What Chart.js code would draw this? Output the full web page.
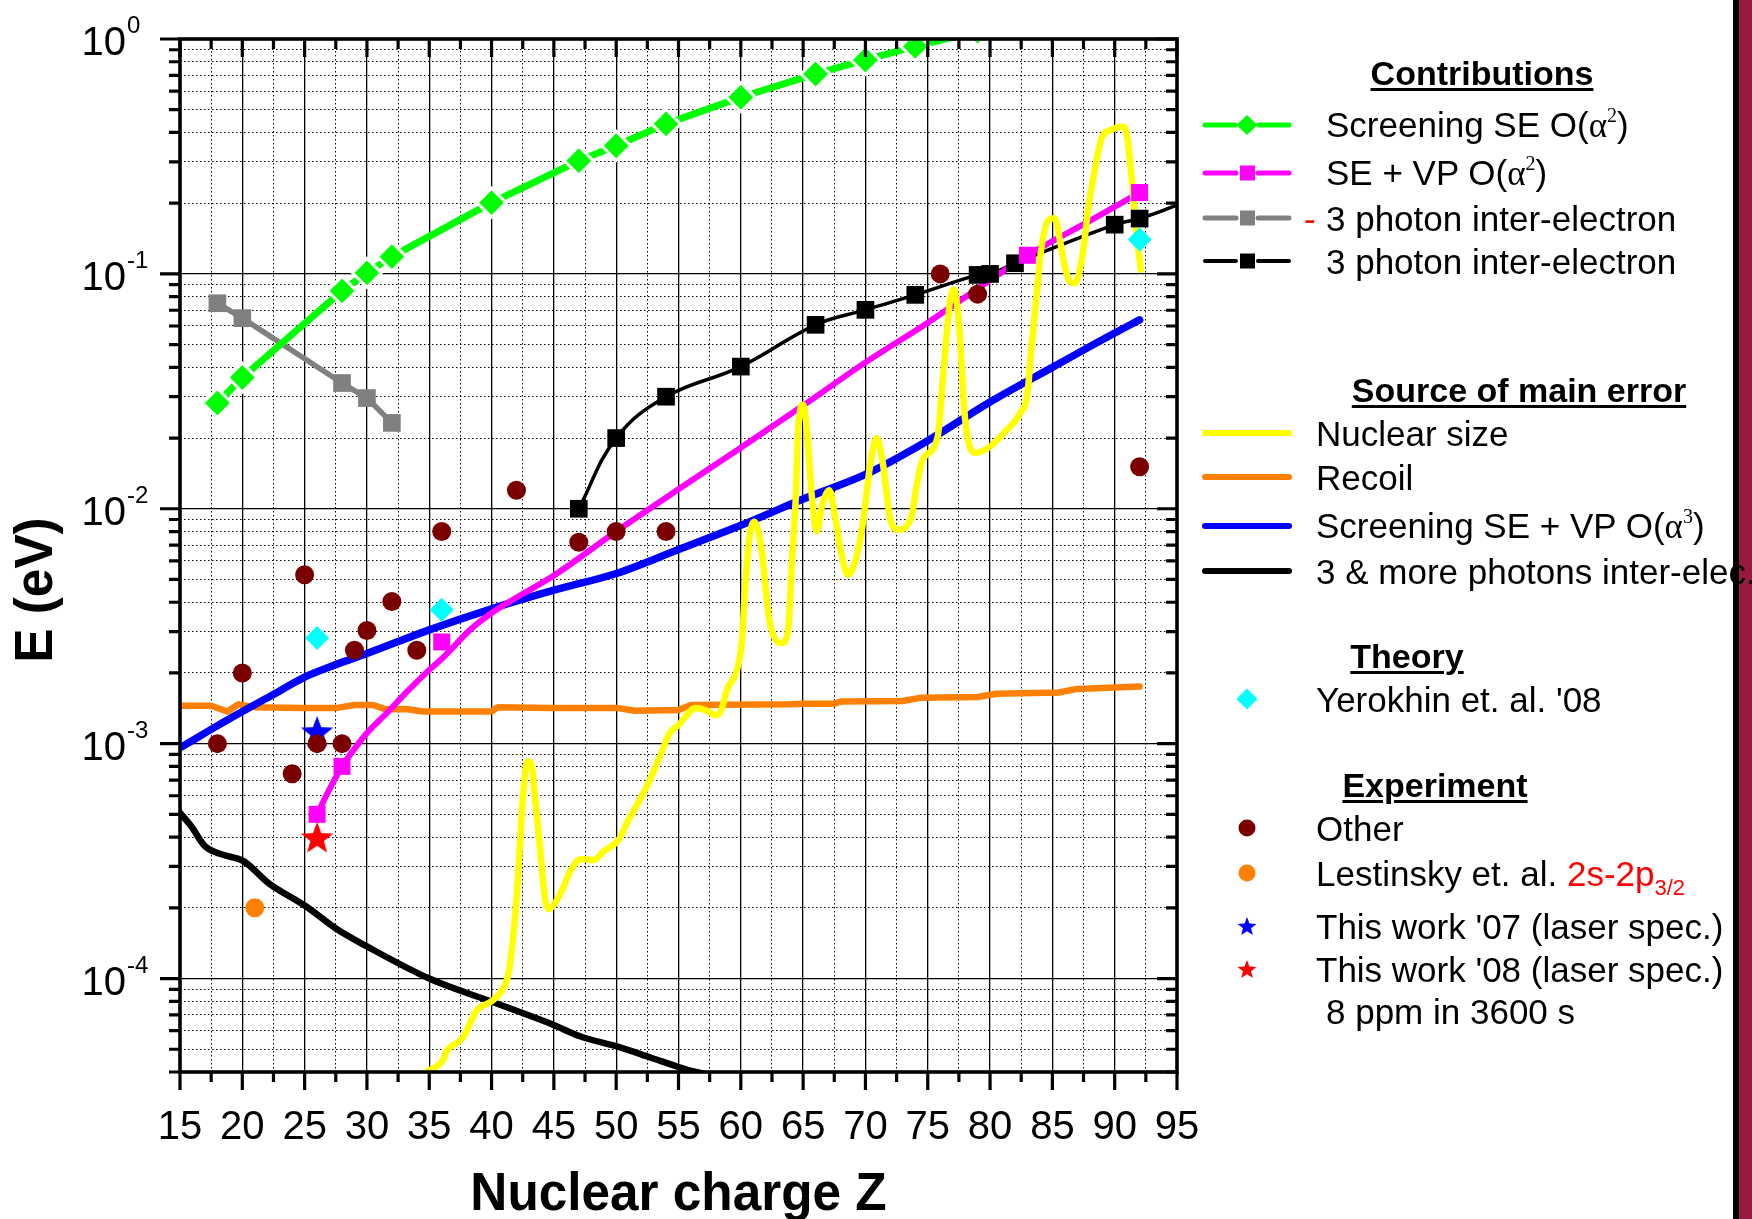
<!DOCTYPE html>
<html>
<head>
<meta charset="utf-8">
<title>Screening and error budget vs Z</title>
<script src="https://cdn.jsdelivr.net/npm/chart.js@4.4.1/dist/chart.umd.min.js"></script>
<style>
  html, body { margin: 0; padding: 0; background: #fff; }
  body { width: 1752px; height: 1219px; position: relative; overflow: hidden; font-family: "Liberation Sans", Arial, sans-serif; }
  #plot { position: absolute; left: 0; top: 0; }
  .lg { position: absolute; font-size: 35px; line-height: 1; color: #000; white-space: nowrap; transform: translateY(-50%); }
  .hd { font-weight: bold; font-size: 34px; text-decoration: underline; text-decoration-thickness: 3px; text-underline-offset: 3px; transform: translate(-50%, -50%); }
  .al { font-family: "Liberation Serif", "Times New Roman", serif; }
  .sp { font-family: "Liberation Serif", "Times New Roman", serif; font-size: 20px; position: relative; top: -15px; }
  .red { color: #ff0000; }
  .sb { font-size: 22px; position: relative; top: 9px; }
  .smp { position: absolute; left: 1198px; width: 100px; height: 30px; }
  #bar { position: absolute; left: 1733px; top: 0; width: 19px; height: 1219px; background: #981a3e; border-left: 6px solid #000; box-sizing: border-box; }
</style>
</head>
<body>
<canvas id="plot" width="1752" height="1219"></canvas>
<div id="bar"></div>

<div class="lg hd" style="left:1482px;top:73px">Contributions</div>
<svg class="smp" style="top:110px"><line x1="7" y1="15" x2="37" y2="15" stroke="#00ff00" stroke-width="5" stroke-linecap="round"/><line x1="61" y1="15" x2="91" y2="15" stroke="#00ff00" stroke-width="5" stroke-linecap="round"/><polygon points="49,5 59.5,15 49,25 38.5,15" fill="#00ff00"/></svg>
<div class="lg" style="left:1326px;top:125px">Screening SE O(<span class="al">α</span><span class="sp">2</span>)</div>
<svg class="smp" style="top:158px"><line x1="7" y1="15" x2="38" y2="15" stroke="#ff00ff" stroke-width="5" stroke-linecap="round"/><line x1="60" y1="15" x2="91" y2="15" stroke="#ff00ff" stroke-width="5" stroke-linecap="round"/><rect x="42" y="7.5" width="15" height="15" fill="#ff00ff"/></svg>
<div class="lg" style="left:1326px;top:173px">SE + VP O(<span class="al">α</span><span class="sp">2</span>)</div>
<svg class="smp" style="top:203px"><line x1="7" y1="15" x2="38" y2="15" stroke="#808080" stroke-width="5" stroke-linecap="round"/><line x1="60" y1="15" x2="91" y2="15" stroke="#808080" stroke-width="5" stroke-linecap="round"/><rect x="42" y="7.5" width="15" height="15" fill="#808080"/></svg>
<div class="lg red" style="left:1304px;top:218px">-</div>
<div class="lg" style="left:1326px;top:218px">3 photon inter-electron</div>
<svg class="smp" style="top:246px"><line x1="7" y1="15" x2="38" y2="15" stroke="#000" stroke-width="4" stroke-linecap="round"/><line x1="60" y1="15" x2="91" y2="15" stroke="#000" stroke-width="4" stroke-linecap="round"/><rect x="42" y="7.5" width="15" height="15" fill="#000"/></svg>
<div class="lg" style="left:1326px;top:261px">3 photon inter-electron</div>

<div class="lg hd" style="left:1519px;top:390px">Source of main error</div>
<svg class="smp" style="top:418px"><line x1="7" y1="15" x2="91" y2="15" stroke="#ffff00" stroke-width="6" stroke-linecap="round"/></svg>
<div class="lg" style="left:1316px;top:433px">Nuclear size</div>
<svg class="smp" style="top:462px"><line x1="7" y1="15" x2="91" y2="15" stroke="#ff8000" stroke-width="6" stroke-linecap="round"/></svg>
<div class="lg" style="left:1316px;top:477px">Recoil</div>
<svg class="smp" style="top:511px"><line x1="7" y1="15" x2="91" y2="15" stroke="#0000ff" stroke-width="6" stroke-linecap="round"/></svg>
<div class="lg" style="left:1316px;top:526px">Screening SE + VP O(<span class="al">α</span><span class="sp">3</span>)</div>
<svg class="smp" style="top:556px"><line x1="7" y1="15" x2="91" y2="15" stroke="#000" stroke-width="6" stroke-linecap="round"/></svg>
<div class="lg" style="left:1316px;top:571px">3 &amp; more photons inter-elec.</div>

<div class="lg hd" style="left:1407px;top:656px">Theory</div>
<svg class="smp" style="top:684px"><polygon points="49,4.5 59.5,15 49,25.5 38.5,15" fill="#00ffff"/></svg>
<div class="lg" style="left:1316px;top:699px">Yerokhin et. al. '08</div>

<div class="lg hd" style="left:1435px;top:785px">Experiment</div>
<svg class="smp" style="top:813px"><circle cx="49" cy="15" r="8.5" fill="#7a0000"/></svg>
<div class="lg" style="left:1316px;top:828px">Other</div>
<svg class="smp" style="top:858px"><circle cx="49" cy="15" r="8.5" fill="#ff8000"/></svg>
<div class="lg" style="left:1316px;top:873px">Lestinsky et. al. <span class="red">2s-2p<span class="sb">3/2</span></span></div>
<svg class="smp" style="top:911px"><polygon id="st07" fill="#0000ff"/></svg>
<div class="lg" style="left:1316px;top:926px">This work '07 (laser spec.)</div>
<svg class="smp" style="top:954px"><polygon id="st08" fill="#ff0000"/></svg>
<div class="lg" style="left:1316px;top:969px">This work '08 (laser spec.)</div>
<div class="lg" style="left:1326px;top:1011px">8 ppm in 3600 s</div>

<script>
// axis ranges and tick labels
const zMin = 15, zMax = 95;
const eMin = 4e-5, eMax = 1;
const zTickValues = [15, 17.5, 20, 22.5, 25, 27.5, 30, 32.5, 35, 37.5, 40, 42.5, 45, 47.5, 50, 52.5, 55,
  57.5, 60, 62.5, 65, 67.5, 70, 72.5, 75, 77.5, 80, 82.5, 85, 87.5, 90, 92.5, 95];
const zLabelValues = [15, 20, 25, 30, 35, 40, 45, 50, 55, 60, 65, 70, 75, 80, 85, 90, 95];
const eDecades = [0, -1, -2, -3, -4];

// Screening SE O(a^2)
const screenSeZ = [18, 20, 28, 30, 32, 40, 47, 50, 54, 60, 66, 70, 74, 79];
const screenSeE = [0.0282, 0.0362, 0.0847, 0.101, 0.1185, 0.201, 0.303, 0.351, 0.435, 0.565, 0.71, 0.814, 0.93, 1.08];

// SE + VP O(a^2): computed points and the curve through them
const seVpMarkZ = [26, 28, 36, 83, 92];
const seVpMarkE = [5.0e-4, 8.0e-4, 2.71e-3, 0.12, 0.222];
const seVpCurveZ = [26, 27, 28, 29, 30, 31.6, 33.1, 35, 36.2, 38.3, 40, 41.7, 45, 50, 55, 60, 65, 70, 75, 80, 83, 88, 92];
const seVpCurveE = [5.0e-4, 6.4e-4, 8.0e-4, 9.5e-4, 1.11e-3, 1.35e-3, 1.64e-3, 2.06e-3, 2.35e-3, 3.06e-3, 3.6e-3, 4.1e-3,
  5.2e-3, 8.0e-3, 0.0121, 0.0182, 0.0275, 0.042, 0.062, 0.094, 0.12, 0.168, 0.222];

// 3 photon inter-electron, negative sign
const photon3NegZ = [18, 20, 28, 30, 32];
const photon3NegE = [0.075, 0.0648, 0.0343, 0.0296, 0.0232];

// 3 photon inter-electron
const photon3MarkZ = [47, 50, 54, 60, 66, 70, 74, 79, 80, 82, 90, 92];
const photon3MarkE = [0.01, 0.02, 0.030, 0.0403, 0.0607, 0.0703, 0.0814, 0.099, 0.1, 0.111, 0.162, 0.172];
const photon3CurveZ = [47, 50, 54, 60, 66, 70, 74, 79, 80, 82, 90, 92, 95];
const photon3CurveE = [0.01, 0.02, 0.030, 0.0403, 0.0607, 0.0703, 0.0814, 0.099, 0.1, 0.111, 0.162, 0.172, 0.196];

// nuclear size uncertainty
const nuclearZ = [34.8, 36.1, 36.4, 37.7, 38.8, 40.0, 40.7, 41.3, 41.6, 42.0, 42.3, 42.5, 42.9, 43.2, 43.5, 43.9, 44.3,
  44.6, 45.1, 45.8, 46.3, 47.2, 48.2, 49.0, 50.2, 51.0, 51.9, 52.7, 53.5, 54.3, 55.0, 56.4, 57.3, 58.0, 58.4,
  58.9, 59.7, 60.1, 60.3, 60.7, 61.1, 61.7, 62.2, 62.7, 63.3, 63.8, 64.1, 64.4, 64.6, 65.0, 65.3, 65.7, 66.1,
  66.5, 67.1, 67.6, 68.1, 68.6, 69.3, 69.8, 70.4, 70.9, 71.4, 72.0, 72.6, 73.7, 74.1, 74.6, 75.8, 76.1, 76.3,
  76.8, 77.1, 77.5, 78.0, 78.8, 80.0, 81.1, 82.4, 83.0, 83.3, 83.7, 84.1, 84.7, 85.2, 85.6, 86.0, 86.4, 86.8,
  87.4, 87.9, 88.5, 89.0, 89.7, 90.6, 91.0, 91.4, 91.7, 92.1];
const nuclearE = [4.0e-5, 4.5e-5, 4.9e-5, 5.6e-5, 7.3e-5, 8.0e-5, 8.7e-5, 1.02e-4, 1.29e-4, 2.17e-4, 3.9e-4, 5.8e-4,
  8.4e-4, 8.2e-4, 5.8e-4, 3.54e-4, 2.17e-4, 1.97e-4, 2.1e-4, 2.47e-4, 2.86e-4, 3.23e-4, 3.2e-4, 3.48e-4, 3.9e-4,
  4.75e-4, 5.78e-4, 7.0e-4, 8.8e-4, 1.11e-3, 1.2e-3, 1.42e-3, 1.38e-3, 1.32e-3, 1.38e-3,
  1.70e-3, 2.07e-3, 2.77e-3, 4.24e-3, 7.6e-3, 8.8e-3, 6.5e-3, 3.6e-3, 2.82e-3, 2.68e-3, 3.06e-3, 5.87e-3, 0.0109,
  0.0217, 0.0277, 0.0217, 0.0113, 8.0e-3, 0.0102, 0.0120, 9.0e-3, 6.3e-3, 5.24e-3, 6.3e-3, 8.7e-3, 0.0156, 0.020,
  0.0156, 9.0e-3, 8.14e-3, 9.27e-3, 0.01245, 0.0162, 0.0203, 0.030, 0.0403, 0.0775, 0.0855, 0.062, 0.024, 0.0173,
  0.0184, 0.021, 0.0255, 0.031, 0.0475, 0.0775, 0.1265, 0.170, 0.1726, 0.1396, 0.1075, 0.0927, 0.0913, 0.1185,
  0.193, 0.296, 0.384, 0.41, 0.424, 0.384, 0.243, 0.159, 0.104];

// recoil uncertainty
const recoilZ = [15, 17.5, 18.8, 19.7, 21, 25, 27.6, 29, 30.5, 31.5, 33.3, 34.5, 40, 40.5, 45, 50, 51.5, 55, 56,
  64, 65, 67.5, 68, 73, 74.5, 79, 80.5, 85.5, 87, 92];
const recoilE = [1.45e-3, 1.45e-3, 1.37e-3, 1.47e-3, 1.43e-3, 1.42e-3, 1.42e-3, 1.46e-3, 1.46e-3, 1.40e-3, 1.40e-3,
  1.37e-3, 1.37e-3, 1.43e-3, 1.42e-3, 1.42e-3, 1.38e-3, 1.39e-3, 1.46e-3, 1.47e-3, 1.48e-3, 1.48e-3, 1.51e-3,
  1.52e-3, 1.57e-3, 1.58e-3, 1.63e-3, 1.65e-3, 1.71e-3, 1.75e-3];

// screening SE + VP O(a^3)
const screen3Z = [15, 17.5, 20, 22.5, 25, 27.5, 30, 35, 40, 45, 50, 55, 60, 65, 70, 75, 80, 85, 90, 92];
const screen3E = [9.6e-4, 1.15e-3, 1.37e-3, 1.62e-3, 1.92e-3, 2.17e-3, 2.42e-3, 3.05e-3, 3.75e-3, 4.5e-3, 5.3e-3,
  6.7e-3, 8.5e-3, 0.0110, 0.0140, 0.0195, 0.0285, 0.040, 0.056, 0.0637];

// 3 and more photons inter-electron
const photonsMoreZ = [15, 15.9, 17, 18.4, 20.1, 22.1, 25.1, 27.6, 30, 35, 40.2, 44.8, 47.2, 50, 52.8, 55.2, 56.4, 58];
const photonsMoreE = [5.07e-4, 4.45e-4, 3.66e-4, 3.37e-4, 3.16e-4, 2.55e-4, 2.03e-4, 1.62e-4, 1.37e-4, 1.0e-4, 7.9e-5,
  6.4e-5, 5.65e-5, 5.15e-5, 4.6e-5, 4.17e-5, 4.0e-5, 3.8e-5];

// theory and experiment
const yerokhinZ = [26, 36, 92];
const yerokhinE = [2.82e-3, 3.72e-3, 0.14];
const otherZ = [18, 20, 24, 25, 26, 28, 29, 30, 32, 34, 36, 42, 47, 50, 54, 76, 79, 92];
const otherE = [1e-3, 2.0e-3, 7.45e-4, 5.24e-3, 1e-3, 1e-3, 2.5e-3, 3.03e-3, 4.03e-3, 2.5e-3, 8.0e-3, 0.012, 7.2e-3,
  8.0e-3, 8.0e-3, 0.1, 0.082, 0.0151];
const lestinskyZ = [21];
const lestinskyE = [2.0e-4];
const work07Z = [26];
const work07E = [1.13e-3];
const work08Z = [26];
const work08E = [4.0e-4];

const FONT = '"Liberation Sans", Arial, sans-serif';
const pts = (zs, es) => zs.map((z, i) => ({ x: z, y: es[i] }));

function starPoints(cx, cy, r, inner) {
  const out = [];
  for (let i = 0; i < 10; i++) {
    const rad = i % 2 === 0 ? r : r * inner;
    const a = -Math.PI / 2 + i * Math.PI / 5;
    out.push([cx + rad * Math.cos(a), cy + rad * Math.sin(a)]);
  }
  return out;
}

function starImage(color, r) {
  const c = document.createElement('canvas');
  c.width = c.height = Math.ceil(r * 2 + 2);
  const g = c.getContext('2d');
  const m = c.width / 2;
  g.beginPath();
  starPoints(m, m + r * 0.1, r, 0.42).forEach(p => g.lineTo(p[0], p[1]));
  g.closePath();
  g.fillStyle = color;
  g.fill();
  return c;
}

// legend stars
['st07', 'st08'].forEach(id => {
  document.getElementById(id).setAttribute('points',
    starPoints(49, 16, 10, 0.42).map(p => p.join(',')).join(' '));
});

function curve(zs, es, color, width, extra) {
  return Object.assign({
    data: pts(zs, es), borderColor: color, backgroundColor: color, borderWidth: width,
    pointRadius: 0, fill: false, borderJoinStyle: 'round', borderCapStyle: 'round', tension: 0
  }, extra || {});
}

function marks(zs, es, color, style, radius) {
  return {
    data: pts(zs, es), showLine: false, pointStyle: style, pointRadius: radius,
    backgroundColor: color, borderColor: color, borderWidth: 0
  };
}

const smooth = { tension: 0.4, cubicInterpolationMode: 'monotone' };

// first dataset is drawn on top
const datasets = [
  marks(yerokhinZ, yerokhinE, '#00ffff', 'rectRot', 12),
  marks(otherZ, otherE, '#7a0000', 'circle', 9.5),
  marks(work07Z, work07E, '#0000ff', starImage('#0000ff', 17), 8),
  marks(work08Z, work08E, '#ff0000', starImage('#ff0000', 17), 8),
  marks(lestinskyZ, lestinskyE, '#ff8000', 'circle', 9.5),
  marks(seVpMarkZ, seVpMarkE, '#ff00ff', 'rect', 12),
  marks(photon3MarkZ, photon3MarkE, '#000000', 'rect', 12.5),
  curve(nuclearZ, nuclearE, '#ffff00', 6.5, smooth),
  curve(seVpCurveZ, seVpCurveE, '#ff00ff', 6, smooth),
  curve(photon3CurveZ, photon3CurveE, '#000000', 3.5, { tension: 0.4 }),
  // diamonds get a thin white rim so the line stops short of each symbol
  curve(screenSeZ, screenSeE, '#00ff00', 7, {
    pointStyle: 'rectRot', pointRadius: 14.5, pointBorderWidth: 3, pointBorderColor: '#ffffff'
  }),
  curve(photon3NegZ, photon3NegE, '#808080', 5.5, { pointStyle: 'rect', pointRadius: 12.5, pointBorderWidth: 0 }),
  curve(screen3Z, screen3E, '#0000ff', 7.5, smooth),
  curve(recoilZ, recoilE, '#ff8000', 6.5),
  curve(photonsMoreZ, photonsMoreE, '#000000', 6.5, smooth)
];

const isDecade = v => Math.abs(Math.log10(v) - Math.round(Math.log10(v))) < 1e-9;

// frame, tick marks, power-of-ten labels and the axis titles
const axisDecor = {
  id: 'axisDecor',
  afterDatasetsDraw(chart) {
    const { ctx, chartArea: a, scales: { x, y } } = chart;
    ctx.save();
    ctx.strokeStyle = '#000';
    ctx.lineWidth = 3.2;
    ctx.beginPath();
    x.ticks.forEach(t => {
      const px = x.getPixelForValue(t.value);
      const len = t.value % 5 === 0 ? 18 : 10;
      ctx.moveTo(px, a.bottom); ctx.lineTo(px, a.bottom + len);
      ctx.moveTo(px, a.top); ctx.lineTo(px, a.top + len);
    });
    y.ticks.forEach(t => {
      const py = y.getPixelForValue(t.value);
      const len = isDecade(t.value) ? 20 : 11;
      ctx.moveTo(a.left - len, py); ctx.lineTo(a.left, py);
      ctx.moveTo(a.right - len, py); ctx.lineTo(a.right, py);
    });
    ctx.stroke();
    ctx.lineWidth = 3.6;
    ctx.strokeRect(a.left, a.top, a.right - a.left, a.bottom - a.top);

    ctx.fillStyle = '#000';
    ctx.textBaseline = 'alphabetic';
    eDecades.forEach(p => {
      const py = y.getPixelForValue(Math.pow(10, p));
      ctx.textAlign = 'right';
      ctx.font = '40px ' + FONT;
      ctx.fillText('10', 126, py + 16);
      ctx.textAlign = 'left';
      ctx.font = '24px ' + FONT;
      ctx.fillText(String(p), 127, py - 6);
    });

    // x title
    ctx.save();
    ctx.translate((a.left + a.right) / 2, 1210);
    ctx.scale(0.95, 1);
    ctx.textAlign = 'center';
    ctx.font = 'bold 54px ' + FONT;
    ctx.fillText('Nuclear charge Z', 0, 0);
    ctx.restore();

    // y title
    ctx.translate(37, 590);
    ctx.rotate(-Math.PI / 2);
    ctx.scale(0.95, 1);
    ctx.textAlign = 'center';
    ctx.textBaseline = 'middle';
    ctx.font = 'bold 54px ' + FONT;
    ctx.fillText('E (eV)', 0, 0);
    ctx.restore();
  }
};

new Chart(document.getElementById('plot'), {
  type: 'line',
  data: { datasets },
  options: {
    responsive: false,
    animation: false,
    events: [],
    layout: { padding: { left: 0, top: 39, right: 575, bottom: 0 } },
    plugins: { legend: { display: false }, tooltip: { enabled: false } },
    scales: {
      x: {
        type: 'linear', min: zMin, max: zMax,
        afterBuildTicks: s => { s.ticks = zTickValues.map(v => ({ value: v })); },
        afterFit: s => { s.height = 147; },
        ticks: {
          autoSkip: false, maxRotation: 0, padding: 32, color: '#000',
          font: { family: FONT, size: 40 },
          callback: v => zLabelValues.includes(v) ? String(v) : ''
        },
        grid: { color: '#000', drawTicks: false, lineWidth: c => (c.tick && c.tick.value % 5 === 0) ? 1.3 : 1 },
        border: { display: false, dash: c => (c.tick && c.tick.value % 5 === 0) ? [] : [1.5, 2.5] }
      },
      y: {
        type: 'logarithmic', min: eMin, max: eMax,
        afterBuildTicks: s => {
          const ticks = [];
          for (let e = -5; e <= 0; e++) {
            for (let m = 1; m <= 9; m++) {
              const v = m * Math.pow(10, e);
              if (v >= eMin * 0.999 && v <= eMax * 1.001) ticks.push({ value: v, major: m === 1 });
            }
          }
          s.ticks = ticks;
        },
        afterFit: s => { s.width = 180; },
        ticks: { display: false },
        grid: { color: '#000', drawTicks: false, lineWidth: c => (c.tick && c.tick.major) ? 1.3 : 1 },
        border: { display: false, dash: c => (c.tick && c.tick.major) ? [] : [1.5, 2.5] }
      }
    }
  },
  plugins: [axisDecor]
});
</script>
</body>
</html>
